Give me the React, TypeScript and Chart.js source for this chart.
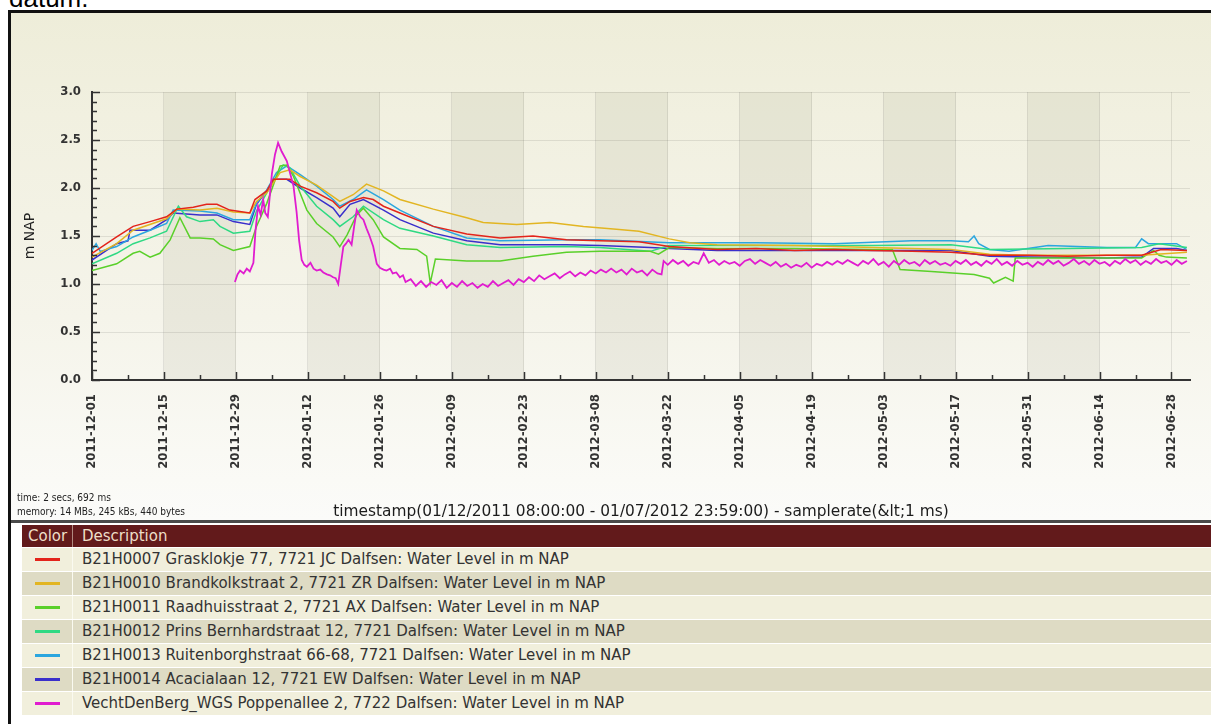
import React, { useEffect, useRef } from 'react';
import { Chart, registerables } from 'chart.js';

Chart.register(...registerables);

// ---------- data ----------
const seriesLabels = [
  'B21H0007 Grasklokje 77, 7721 JC Dalfsen: Water Level in m NAP',
  'B21H0010 Brandkolkstraat 2, 7721 ZR Dalfsen: Water Level in m NAP',
  'B21H0011 Raadhuisstraat 2, 7721 AX Dalfsen: Water Level in m NAP',
  'B21H0012 Prins Bernhardstraat 12, 7721 Dalfsen: Water Level in m NAP',
  'B21H0013 Ruitenborghstraat 66-68, 7721 Dalfsen: Water Level in m NAP',
  'B21H0014 Acacialaan 12, 7721 EW Dalfsen: Water Level in m NAP',
  'VechtDenBerg_WGS Poppenallee 2, 7722 Dalfsen: Water Level in m NAP',
];
const seriesColors = ['#e3241b', '#e2b522', '#5ad02a', '#2fd983', '#2ba6df', '#3a2fcb', '#e01ccf'];

// days since 2011-12-01
const redDays = [0, 4.8, 8.0, 11.3, 14.5, 16.5, 19.7, 22.3, 24.3, 26.8, 30.7, 31.7, 34.0, 35.3, 38.5, 40.5, 43.7, 46.9, 48.2, 50.2, 52.8, 54.7, 56.7, 59.9, 66.4, 72.9, 79.4, 85.8, 92.3, 98.8, 106.4, 112.3, 121.6, 129.2, 136.7, 144.3, 151.9, 159.5, 167.1, 174.6, 182.2, 189.8, 197.4, 204.2, 208, 213];
const redVals = [1.32, 1.49, 1.60, 1.65, 1.70, 1.78, 1.80, 1.83, 1.83, 1.77, 1.74, 1.88, 1.97, 2.09, 2.09, 2.02, 1.95, 1.86, 1.79, 1.86, 1.90, 1.88, 1.81, 1.74, 1.60, 1.52, 1.48, 1.50, 1.46, 1.45, 1.44, 1.39, 1.36, 1.37, 1.35, 1.36, 1.35, 1.34, 1.33, 1.30, 1.30, 1.29, 1.30, 1.30, 1.36, 1.35];

const yellowDays = [0, 4.8, 8.0, 14.5, 16.5, 21.0, 24.3, 27.5, 30.7, 32.0, 34.0, 36.6, 38.5, 40.5, 43.7, 46.9, 48.2, 50.8, 53.4, 56.7, 59.9, 66.4, 72.9, 76.1, 82.6, 89.1, 95.6, 102, 106.4, 112.3, 116.3, 121.6, 136.7, 151.9, 167.1, 174.6, 182.2, 197.4, 204.2, 213];
const yellowVals = [1.28, 1.42, 1.56, 1.68, 1.78, 1.77, 1.79, 1.75, 1.74, 1.86, 1.95, 2.16, 2.19, 2.12, 2.03, 1.91, 1.86, 1.93, 2.04, 1.97, 1.88, 1.78, 1.69, 1.64, 1.62, 1.64, 1.60, 1.57, 1.55, 1.47, 1.43, 1.41, 1.40, 1.38, 1.36, 1.31, 1.30, 1.30, 1.30, 1.33];

const greenDays = [0, 4.8, 8.0, 9.3, 11.3, 13.2, 15.2, 17.1, 19.1, 21.0, 23.6, 24.9, 27.5, 30.7, 32.0, 34.0, 36.6, 37.9, 39.2, 41.8, 43.7, 46.9, 48.2, 49.6, 51.5, 52.8, 54.7, 56.7, 59.9, 63.2, 65.1, 65.8, 66.8, 72.9, 79.4, 85.8, 92.3, 98.8, 108.6, 110.2, 112.3, 121.6, 136.7, 151.9, 155.7, 157.2, 163.3, 171.6, 174.6, 175.4, 177.7, 179.2, 179.6, 189.8, 204.2, 206.5, 207.6, 209, 213];
const greenVals = [1.14, 1.21, 1.32, 1.34, 1.28, 1.32, 1.46, 1.69, 1.48, 1.48, 1.47, 1.41, 1.35, 1.39, 1.60, 1.84, 2.23, 2.24, 2.12, 1.77, 1.63, 1.49, 1.39, 1.51, 1.72, 1.79, 1.67, 1.49, 1.37, 1.36, 1.29, 1.01, 1.26, 1.24, 1.24, 1.29, 1.33, 1.34, 1.34, 1.31, 1.38, 1.37, 1.37, 1.36, 1.36, 1.15, 1.13, 1.10, 1.06, 1.01, 1.07, 1.03, 1.27, 1.27, 1.27, 1.35, 1.30, 1.28, 1.27];

const tealDays = [0, 4.8, 8.0, 11.3, 14.5, 16.8, 18.4, 21.0, 23.6, 24.9, 27.5, 30.7, 32.0, 34.0, 37.2, 38.5, 40.5, 43.7, 46.9, 48.2, 50.8, 52.8, 56.7, 59.9, 66.4, 72.9, 79.4, 92.3, 98.8, 108.6, 112.3, 129.2, 151.9, 167.1, 174.6, 189.8, 204.2, 207.6, 213];
const tealVals = [1.21, 1.32, 1.42, 1.48, 1.55, 1.81, 1.70, 1.65, 1.67, 1.60, 1.53, 1.55, 1.76, 1.95, 2.24, 2.21, 2.02, 1.81, 1.67, 1.60, 1.70, 1.81, 1.67, 1.58, 1.50, 1.41, 1.38, 1.39, 1.38, 1.34, 1.40, 1.40, 1.40, 1.41, 1.36, 1.37, 1.38, 1.42, 1.38];

const cyanDays = [0, 0.8, 1.6, 4.8, 8.0, 11.3, 14.5, 15.8, 21.0, 24.3, 27.5, 30.7, 32.0, 34.0, 35.9, 37.9, 40.5, 43.7, 46.9, 48.2, 50.8, 53.4, 56.7, 59.9, 66.4, 72.9, 79.4, 92.3, 98.8, 112.3, 129.2, 144.3, 159.5, 167.1, 170.5, 171.6, 172.5, 174.6, 178.4, 186.0, 197.4, 203, 204.2, 205.5, 211.0, 212.9];
const cyanVals = [1.35, 1.42, 1.34, 1.39, 1.49, 1.56, 1.63, 1.77, 1.76, 1.74, 1.67, 1.67, 1.84, 1.98, 2.16, 2.23, 2.14, 2.02, 1.88, 1.81, 1.88, 1.98, 1.88, 1.77, 1.60, 1.48, 1.45, 1.46, 1.46, 1.43, 1.43, 1.42, 1.45, 1.45, 1.44, 1.50, 1.42, 1.36, 1.34, 1.40, 1.38, 1.38, 1.47, 1.42, 1.42, 1.36];

const indigoDays = [0, 4.8, 7.0, 7.4, 11.3, 14.5, 15.8, 21.0, 24.3, 27.5, 30.7, 32.0, 34.0, 35.3, 37.9, 40.5, 43.7, 46.9, 48.2, 50.2, 52.8, 56.7, 59.9, 66.4, 72.9, 79.4, 92.3, 98.8, 108.6, 112.3, 121.6, 136.7, 151.9, 167.1, 174.6, 182.2, 197.4, 204.2, 206.5, 211, 213];
const indigoVals = [1.25, 1.42, 1.45, 1.56, 1.56, 1.67, 1.74, 1.72, 1.72, 1.65, 1.62, 1.83, 1.97, 2.09, 2.09, 2.00, 1.90, 1.79, 1.70, 1.83, 1.88, 1.77, 1.67, 1.53, 1.45, 1.41, 1.41, 1.40, 1.38, 1.37, 1.35, 1.35, 1.35, 1.35, 1.29, 1.28, 1.27, 1.28, 1.37, 1.37, 1.35];

const magentaDays = [
  27.8, 28.3, 28.8, 29.5, 30.1, 30.7, 31.4, 31.8, 32.3, 32.8, 33.3, 33.7, 34.2, 35.0, 35.6, 36.2, 36.9, 37.9, 38.6, 39.2,
  39.8, 40.3, 40.8, 41.3, 41.8, 42.5, 43.1, 43.7, 44.4, 45.0, 45.7, 46.3, 46.9, 47.4, 47.9, 48.4, 48.9, 49.4, 49.9, 50.5,
  51.0, 51.5, 52.2, 52.8, 53.4, 54.0, 54.7, 55.4, 56.0, 56.7, 57.3, 58.0, 58.5, 59.2, 59.9, 60.5,
  61, 62, 63, 64, 65, 66, 67, 68, 69, 70, 71, 72, 73, 74, 75, 76, 77, 78, 79, 80,
  81, 82, 83, 84, 85, 86, 87, 88, 89, 90, 91, 92, 93, 94, 95, 96, 97, 98, 99, 100,
  101, 102, 103, 104, 105, 106, 107, 108, 109, 110, 110.8, 111.2,
  112, 113, 114, 115, 116, 117, 118, 119, 120, 121, 122, 123, 124, 125, 126, 127, 128, 129, 130, 131,
  132, 133, 134, 135, 136, 137, 138, 139, 140, 141, 142, 143, 144, 145, 146, 147, 148, 149, 150, 151,
  152, 153, 154, 155, 156, 157, 158, 159, 160, 161, 162, 163, 164, 165, 166, 167, 168, 169, 170, 171,
  172, 173, 174, 175, 176, 177, 178, 179, 180, 181, 182, 183, 184, 185, 186, 187, 188, 189, 190, 191,
  192, 193, 194, 195, 196, 197, 198, 199, 200, 201, 202, 203, 204, 205, 206, 207, 208, 209, 210, 211,
  212, 213,
];
const magentaVals = [
  1.02, 1.10, 1.14, 1.11, 1.16, 1.13, 1.22, 1.55, 1.81, 1.72, 1.88, 1.74, 1.70, 2.15, 2.35, 2.47, 2.38, 2.28, 2.14, 2.02,
  1.75, 1.45, 1.25, 1.20, 1.18, 1.22, 1.16, 1.14, 1.15, 1.12, 1.10, 1.09, 1.07, 1.06, 1.00, 1.20, 1.39, 1.42, 1.46, 1.41,
  1.60, 1.77, 1.70, 1.67, 1.58, 1.50, 1.39, 1.21, 1.17, 1.15, 1.14, 1.16, 1.11, 1.12, 1.07, 1.09,
  1.02, 1.05, 0.98, 1.03, 0.97, 1.02, 0.99, 1.04, 0.96, 1.01, 0.97, 1.03, 0.98, 1.01, 0.96, 1.00, 0.97, 1.03, 0.98, 1.01,
  1.04, 0.99, 1.05, 1.02, 1.07, 1.03, 1.09, 1.05, 1.08, 1.11, 1.06, 1.10, 1.13, 1.08, 1.12, 1.09, 1.14, 1.11, 1.15, 1.12,
  1.16, 1.12, 1.15, 1.10, 1.16, 1.12, 1.14, 1.09, 1.15, 1.11, 1.10, 1.24,
  1.20, 1.25, 1.21, 1.24, 1.19, 1.23, 1.21, 1.32, 1.22, 1.25, 1.20, 1.24, 1.21, 1.23, 1.19, 1.24, 1.26, 1.21, 1.25, 1.22,
  1.19, 1.23, 1.18, 1.21, 1.17, 1.20, 1.18, 1.22, 1.17, 1.21, 1.19, 1.23, 1.20, 1.24, 1.21, 1.25, 1.22, 1.19, 1.24, 1.21,
  1.26, 1.20, 1.23, 1.18, 1.24, 1.20, 1.25, 1.21, 1.23, 1.19, 1.25, 1.21, 1.24, 1.20, 1.22, 1.19, 1.24, 1.21, 1.25, 1.20,
  1.23, 1.19, 1.24, 1.21, 1.26, 1.20, 1.23, 1.19, 1.24, 1.20, 1.22, 1.18, 1.23, 1.20, 1.25, 1.21, 1.24, 1.19, 1.22, 1.26,
  1.21, 1.24, 1.20, 1.25, 1.21, 1.23, 1.19, 1.24, 1.21, 1.26, 1.22, 1.25, 1.20, 1.24, 1.21, 1.26, 1.22, 1.24, 1.20, 1.25,
  1.21, 1.24,
];

const seriesDays = [redDays, yellowDays, greenDays, tealDays, cyanDays, indigoDays, magentaDays];
const seriesVals = [redVals, yellowVals, greenVals, tealVals, cyanVals, indigoVals, magentaVals];

const xMin = 0;
const xMax = 213.6;
const yMin = 0;
const yMax = 3;
const xStepDays = 7;
const xLabelEveryDays = 14;
const yStep = 0.1;
const yLabelEvery = 0.5;
const startDateUTC = Date.UTC(2011, 11, 1);

const yTitle = 'm NAP';
const timestampText = 'timestamp(01/12/2011 08:00:00 - 01/07/2012 23:59:00) - samplerate(&lt;1 ms)';
const infoLines = ['time: 2 secs, 692 ms', 'memory: 14 MBs, 245 kBs, 440 bytes'];

// ---------- helpers ----------
const fmtDay = (v: number) =>
  new Date(startDateUTC + Math.round(v) * 86400000).toISOString().slice(0, 10);
const isMultiple = (v: number, m: number) => Math.abs(v / m - Math.round(v / m)) < 1e-6;

const TICK_FONT = { family: '"DejaVu Sans Condensed", "DejaVu Sans", sans-serif', size: 13, weight: 'bold' as const };
const GRID_COLOR = 'rgba(0,0,0,0.09)';

const decorPlugin = {
  id: 'decor',
  beforeDraw(chart: any) {
    const { ctx, scales } = chart;
    const x = scales.x, y = scales.y;
    const top = y.getPixelForValue(yMax);
    const bottom = y.getPixelForValue(yMin);
    ctx.save();
    ctx.fillStyle = 'rgba(70,70,30,0.065)';
    for (let d = xLabelEveryDays; d + xLabelEveryDays <= 210; d += 2 * xLabelEveryDays) {
      const x0 = x.getPixelForValue(d);
      const x1 = x.getPixelForValue(d + xLabelEveryDays);
      ctx.fillRect(x0, top, x1 - x0, bottom - top);
    }
    ctx.restore();
  },
  afterDraw(chart: any) {
    const { ctx, scales } = chart;
    const x = scales.x, y = scales.y;
    const axisY = y.getPixelForValue(yMin);
    const axisX = x.getPixelForValue(xMin);
    ctx.save();
    ctx.strokeStyle = '#333';
    ctx.lineWidth = 1.5;
    ctx.beginPath();
    for (const t of y.ticks) {
      const py = Math.round(y.getPixelForValue(t.value)) + 0.5;
      const len = isMultiple(t.value, yLabelEvery) ? 8 : 5;
      ctx.moveTo(axisX, py);
      ctx.lineTo(axisX + len, py);
    }
    for (const t of x.ticks) {
      const px = Math.round(x.getPixelForValue(t.value)) + 0.5;
      const len = isMultiple(t.value, xLabelEveryDays) ? 8 : 5;
      ctx.moveTo(px, axisY);
      ctx.lineTo(px, axisY - len);
    }
    ctx.stroke();
    ctx.restore();
  },
};

function ChartCanvas() {
  const ref = useRef<HTMLCanvasElement | null>(null);
  useEffect(() => {
    if (!ref.current) return;
    const datasets = seriesLabels.map((label, i) => ({
      label,
      data: seriesDays[i].map((d, j) => ({ x: d, y: seriesVals[i][j] })),
      borderColor: seriesColors[i],
      backgroundColor: seriesColors[i],
      borderWidth: i === 6 ? 1.8 : 1.5,
      pointRadius: 0,
      tension: 0,
      fill: false,
      order: i === 6 ? 0 : 1,
    }));
    const chart = new Chart(ref.current, {
      type: 'line',
      data: { datasets },
      plugins: [decorPlugin],
      options: {
        animation: false,
        responsive: false,
        events: [],
        layout: { padding: { left: 19, top: 92, right: 21, bottom: 2 } },
        plugins: { legend: { display: false }, tooltip: { enabled: false }, title: { display: false } },
        scales: {
          x: {
            type: 'linear',
            min: xMin,
            max: xMax,
            afterFit: (s: any) => { s.height = 141; },
            ticks: {
              stepSize: xStepDays,
              autoSkip: false,
              includeBounds: false,
              minRotation: 90,
              maxRotation: 90,
              padding: 14,
              color: '#333',
              font: TICK_FONT,
              callback: (v: any) => (isMultiple(Number(v), xLabelEveryDays) ? fmtDay(Number(v)) : ''),
            },
            grid: {
              drawTicks: false,
              lineWidth: 1,
              color: (c: any) => (c.tick && isMultiple(c.tick.value, xLabelEveryDays) ? GRID_COLOR : 'rgba(0,0,0,0)'),
            },
            border: { display: true, color: '#333', width: 2 },
            title: {
              display: true,
              text: timestampText,
              color: '#1c1c1c',
              font: { family: '"DejaVu Sans", sans-serif', size: 15.4 },
              padding: { top: 0, bottom: 0 },
            },
          },
          y: {
            type: 'linear',
            min: yMin,
            max: yMax,
            afterFit: (s: any) => { s.width = 73; },
            ticks: {
              stepSize: yStep,
              autoSkip: false,
              includeBounds: false,
              padding: 11,
              color: '#333',
              font: TICK_FONT,
              callback: (v: any) => (isMultiple(Number(v), yLabelEvery) ? Number(v).toFixed(1) : ''),
            },
            grid: {
              drawTicks: false,
              lineWidth: 1,
              color: (c: any) => (c.tick && isMultiple(c.tick.value, yLabelEvery) && c.tick.value > 0 ? GRID_COLOR : 'rgba(0,0,0,0)'),
            },
            border: { display: true, color: '#333', width: 2 },
            title: {
              display: true,
              text: yTitle,
              color: '#222',
              font: { family: '"DejaVu Sans", sans-serif', size: 14 },
              padding: { top: 3, bottom: 3 },
            },
          },
        },
      },
    } as any);
    return () => chart.destroy();
  }, []);
  return <canvas ref={ref} width={1211} height={523} style={{ position: 'absolute', left: 0, top: 0 }} />;
}

export default function App() {
  const rowH = 24;
  return (
    <div style={{ position: 'fixed', left: 0, top: 0, width: 1211, height: 724, background: '#fff', overflow: 'hidden' }}>
      <div style={{ position: 'absolute', left: 9, top: -15, fontSize: 26, lineHeight: '26px', fontFamily: '"Liberation Sans", Arial, sans-serif', color: '#000' }}>datum.</div>
      <div
        style={{
          position: 'absolute', left: 8, top: 10, width: 1210, height: 513, boxSizing: 'border-box',
          borderTop: '3px solid #111', borderBottom: '3px solid #4a4a4a',
          background: 'linear-gradient(to bottom, #eeedd9 0%, #f1f0e0 20%, #f5f4ea 60%, #fafaf6 92%, #fbfbf9 100%)',
        }}
      />
      <div style={{ position: 'absolute', left: 8, top: 10, width: 3, height: 714, background: '#111' }} />
      <ChartCanvas />
      {infoLines.map((t, i) => (
        <div key={i} style={{ position: 'absolute', left: 17, top: 492 + i * 14, fontSize: 10, lineHeight: '12px', whiteSpace: 'nowrap', fontFamily: '"DejaVu Sans Condensed", "DejaVu Sans", sans-serif', color: '#222' }}>{t}</div>
      ))}
      <div style={{ position: 'absolute', left: 22, top: 525, width: 1189, fontFamily: '"DejaVu Sans", sans-serif', fontSize: 15 }}>
        <div style={{ display: 'flex', height: 22, background: '#621a1b', color: '#eedfc8', lineHeight: '22px' }}>
          <div style={{ width: 51, boxSizing: 'border-box', paddingLeft: 6, borderRight: '1px solid #b08a80' }}>Color</div>
          <div style={{ paddingLeft: 9 }}>Description</div>
        </div>
        {seriesLabels.map((label, i) => (
          <div key={i} style={{ display: 'flex', height: rowH - 1, marginTop: 1, background: i % 2 === 0 ? '#f1efdc' : '#dedbc4', color: '#333', lineHeight: `${rowH - 1}px` }}>
            <div style={{ width: 51, boxSizing: 'border-box', borderRight: '1px solid #fafaf0', position: 'relative' }}>
              <div style={{ position: 'absolute', left: 13, top: (rowH - 1) / 2 - 1.5, width: 25, height: 3, background: seriesColors[i] }} />
            </div>
            <div style={{ paddingLeft: 9, whiteSpace: 'nowrap' }}>{label}</div>
          </div>
        ))}
      </div>
    </div>
  );
}
